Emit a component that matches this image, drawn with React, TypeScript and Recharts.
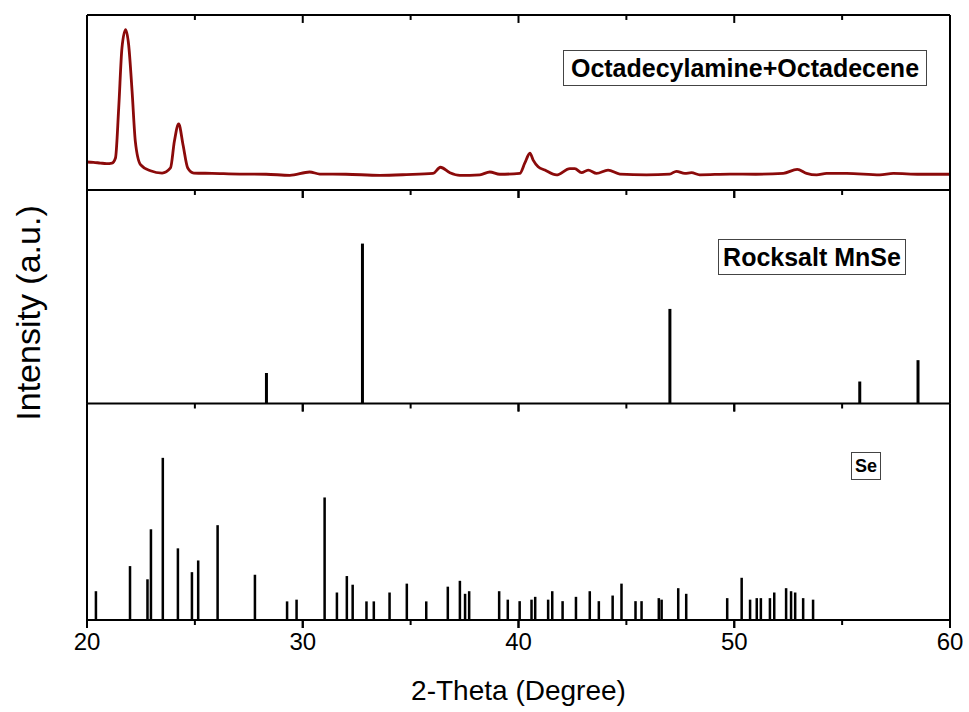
import React from 'react';
import { ComposedChart, Line, Bar, XAxis, YAxis, ReferenceLine } from 'recharts';

// ---------- data ----------
const majorTicks = [20, 30, 40, 50, 60];
const minorTicks = [25, 35, 45, 55];

const sampleAngles = [
  20.0, 20.3, 20.62, 20.9, 21.16, 21.32, 21.47, 21.62, 21.79, 21.93,
  22.09, 22.24, 22.48, 22.94, 23.48, 23.87, 24.05, 24.25, 24.45, 24.67,
  24.95, 25.8, 27.08, 28.3, 29.4, 30.32, 30.79, 32.0, 33.57, 34.8,
  36.04, 36.38, 36.82, 37.28, 38.21, 38.67, 39.13, 40.06, 40.29, 40.53,
  40.68, 40.91, 41.22, 41.76, 42.38, 42.61, 42.92, 43.23, 43.62, 44.15,
  44.7, 45.93, 47.01, 47.32, 47.71, 48.02, 48.4, 49.8, 51.0, 52.27,
  52.92, 53.35, 53.82, 54.28, 55.21, 56.75, 57.37, 58.6, 59.92, 60.0,
];
const sampleIntensity = [
  16.0, 15.8, 15.4, 15.1, 15.4, 18.3, 46.9, 81.1, 91.6, 83.0,
  56.4, 27.8, 14.5, 11.0, 9.7, 12.6, 27.8, 37.7, 25.9, 12.6,
  9.7, 9.5, 9.1, 9.0, 8.4, 10.3, 9.1, 9.0, 8.4, 8.8,
  9.5, 13.0, 9.9, 8.4, 8.7, 10.3, 9.0, 9.5, 15.3, 21.0,
  17.1, 13.3, 11.4, 8.6, 12.2, 12.2, 9.9, 11.4, 9.5, 11.4,
  9.1, 8.7, 9.1, 10.7, 9.5, 9.9, 8.7, 9.1, 9.0, 9.5,
  11.8, 9.5, 8.6, 9.5, 9.5, 8.7, 9.5, 9.0, 9.0, 9.0,
];

const mnseAngles = [28.3, 32.75, 47.0, 55.8, 58.5];
const mnseIntensity = [14.3, 74.9, 44.3, 10.3, 20.3];

const seAngles = [
  20.42, 22.0, 22.81, 22.97, 23.52, 24.22, 24.87, 25.16, 26.06, 27.79,
  29.28, 29.72, 31.02, 31.59, 32.05, 32.32, 32.96, 33.3, 34.03, 34.83,
  35.73, 36.73, 37.29, 37.53, 37.72, 39.11, 39.51, 40.06, 40.61, 40.78,
  41.38, 41.57, 42.05, 42.67, 43.31, 43.73, 44.37, 44.78, 45.43, 45.71,
  46.51, 46.64, 47.41, 47.78, 49.68, 50.35, 50.74, 51.05, 51.24, 51.66,
  51.86, 52.41, 52.64, 52.83, 53.2, 53.66,
];
const seIntensity = [
  13.3, 24.9, 18.8, 41.9, 74.9, 33.1, 22.1, 27.5, 43.8, 20.9,
  8.6, 9.4, 56.6, 12.7, 20.3, 16.3, 8.6, 8.6, 12.7, 16.8,
  8.6, 15.4, 18.1, 12.1, 13.3, 13.3, 9.4, 8.7, 9.4, 10.7,
  9.4, 13.3, 8.7, 10.7, 13.3, 8.7, 11.3, 16.8, 8.7, 8.7,
  10.1, 9.4, 14.7, 12.1, 10.1, 19.5, 9.4, 10.1, 10.1, 10.1,
  12.7, 14.7, 13.3, 12.7, 10.1, 9.4,
];

const sampleLabel = 'Octadecylamine+Octadecene';
const mnseLabel = 'Rocksalt MnSe';
const seLabel = 'Se';
const xTitle = '2-Theta (Degree)';
const yTitle = 'Intensity (a.u.)';

const zip = (xs: number[], ys: number[]) => xs.map((x, i) => ({ x, y: ys[i] }));
const sampleData = zip(sampleAngles, sampleIntensity);
const mnseData = zip(mnseAngles, mnseIntensity);
const seData = zip(seAngles, seIntensity);

// ---------- layout ----------
const W = 969;
const H = 712;
const LEFT = 86;
const RIGHT = W - 951;
const P1_TOP = 14;
const P1_BOT = 190;
const P2_BOT = 403.5;
const P3_BOT = 620;
const FONT = "'Liberation Sans', Arial, Helvetica, sans-serif";
const frame = { stroke: '#000', strokeWidth: 2 };
const tickStroke = { stroke: '#000', strokeWidth: 2 };
const MAJOR_LEN = 8;
const MINOR_LEN = 5;

function TickLabel(props: any) {
  const { x, y, payload, show } = props;
  if (!show) return <g />;
  return (
    <text x={x} y={y + 22} textAnchor="middle" fontSize={24} fontFamily={FONT} fill="#000">
      {payload.value}
    </text>
  );
}

const boxStyle: React.CSSProperties = {
  position: 'absolute',
  border: '1.5px solid #444',
  background: '#fff',
  fontFamily: FONT,
  fontWeight: 'bold',
  color: '#000',
  display: 'flex',
  alignItems: 'center',
  justifyContent: 'center',
  boxSizing: 'border-box',
  whiteSpace: 'nowrap',
};

function sideAxes() {
  return [
    <YAxis key="l" type="number" domain={[0, 100]} width={1} tick={false} tickLine={false} axisLine={frame} />,
    <YAxis
      key="r"
      yAxisId="r"
      orientation="right"
      type="number"
      domain={[0, 100]}
      width={1}
      tick={false}
      tickLine={false}
      axisLine={frame}
    />,
  ];
}

function bottomAxis(withLabels: boolean, height: number) {
  return (
    <XAxis
      dataKey="x"
      type="number"
      domain={[20, 60]}
      ticks={majorTicks}
      interval={0}
      height={height}
      tickSize={MAJOR_LEN}
      tickMargin={0}
      tickLine={tickStroke}
      axisLine={frame}
      tick={(p: any) => <TickLabel {...p} show={withLabels} />}
      label={
        withLabels
          ? { value: xTitle, position: 'insideBottom', offset: 12, fontSize: 28, fill: '#000', fontFamily: FONT }
          : undefined
      }
    />
  );
}

// tick marks along a panel edge, placed through the panel's own scales
// edge: y value of the edge; dir: -1 draws below the edge, +1 ... ; unitsPerPx converts pixel length to y units
function edgeTicks(prefix: string, edge: number, unitsPerPx: number) {
  const all = [
    ...majorTicks.map((x) => ({ x, len: MAJOR_LEN })),
    ...minorTicks.map((x) => ({ x, len: MINOR_LEN })),
  ];
  return all.map((t) => (
    <ReferenceLine
      key={`${prefix}-${t.x}`}
      segment={[
        { x: t.x, y: edge },
        { x: t.x, y: edge - t.len * unitsPerPx },
      ]}
      stroke="#000"
      strokeWidth={2}
      ifOverflow="visible"
    />
  ));
}

export default function App() {
  const layer: React.CSSProperties = { position: 'absolute', left: 0, top: 0 };
  const uA = 100 / (P1_BOT - P1_TOP);
  const uB = 100 / (P2_BOT - P1_BOT);
  const uC = 100 / (P3_BOT - P2_BOT);
  return (
    <div style={{ position: 'absolute', left: 0, top: 0, width: W, height: H, background: '#fff', overflow: 'hidden' }}>
      {/* top panel: measured pattern */}
      <div style={layer}>
        <ComposedChart
          width={W}
          height={H}
          data={sampleData}
          margin={{ top: P1_TOP, right: RIGHT, left: LEFT, bottom: H - P1_BOT - 10 }}
        >
          {bottomAxis(false, 10)}
          <XAxis
            xAxisId="top"
            orientation="top"
            dataKey="x"
            type="number"
            domain={[20, 60]}
            ticks={majorTicks}
            height={1}
            tickLine={false}
            axisLine={frame}
            tick={false}
          />
          {sideAxes()}
          <Line
            dataKey="y"
            type="monotone"
            stroke="#8B0A0A"
            strokeWidth={2.8}
            dot={false}
            isAnimationActive={false}
          />
          {edgeTicks('ab', 0, uA)}
          {edgeTicks('at', 100, uA)}
        </ComposedChart>
      </div>

      {/* middle panel: rocksalt MnSe reference */}
      <div style={layer}>
        <ComposedChart
          width={W}
          height={H}
          data={mnseData}
          margin={{ top: P1_BOT, right: RIGHT, left: LEFT, bottom: H - P2_BOT - 10 }}
        >
          {bottomAxis(false, 10)}
          {sideAxes()}
          <Bar dataKey="y" barSize={3} fill="#000" isAnimationActive={false} />
          {edgeTicks('bb', 0, uB)}
        </ComposedChart>
      </div>

      {/* bottom panel: Se reference */}
      <div style={layer}>
        <ComposedChart
          width={W}
          height={H}
          data={seData}
          margin={{ top: P2_BOT, right: RIGHT, left: LEFT, bottom: 0 }}
        >
          {bottomAxis(true, H - P3_BOT)}
          {sideAxes()}
          <Bar dataKey="y" barSize={3} fill="#000" isAnimationActive={false} />
          {edgeTicks('cb', 0, uC)}
        </ComposedChart>
      </div>

      {/* y-axis title */}
      <div
        style={{
          position: 'absolute',
          left: 28,
          top: 313,
          transform: 'translate(-50%, -50%) rotate(-90deg)',
          whiteSpace: 'nowrap',
          fontSize: 34,
          fontFamily: FONT,
          color: '#000',
        }}
      >
        {yTitle}
      </div>

      {/* series labels */}
      <div style={{ ...boxStyle, left: 563, top: 50, width: 364, height: 36, fontSize: 25 }}>{sampleLabel}</div>
      <div style={{ ...boxStyle, left: 718, top: 239, width: 188, height: 36, fontSize: 25 }}>{mnseLabel}</div>
      <div style={{ ...boxStyle, left: 851, top: 452, width: 30, height: 28, fontSize: 18 }}>{seLabel}</div>
    </div>
  );
}
